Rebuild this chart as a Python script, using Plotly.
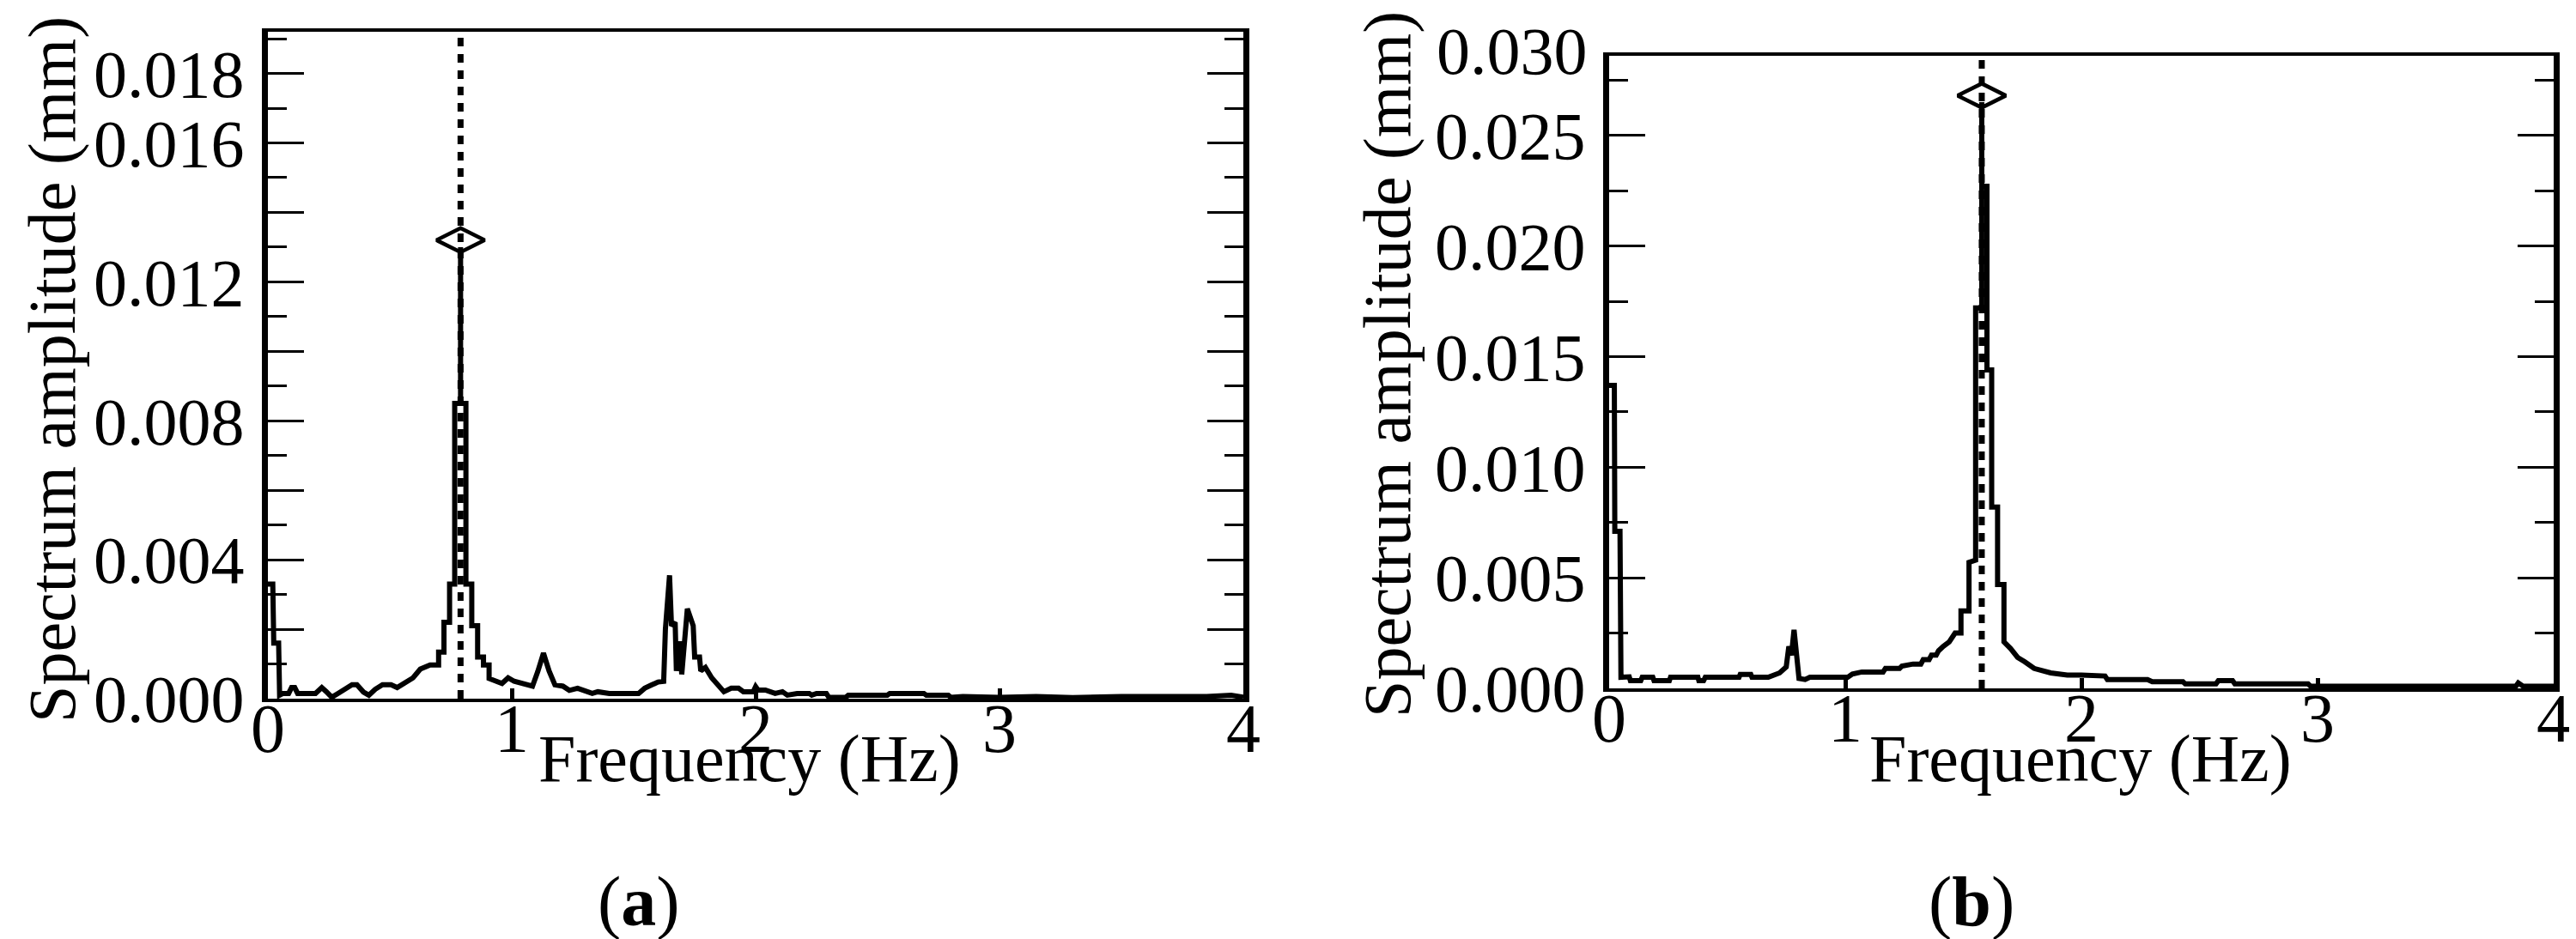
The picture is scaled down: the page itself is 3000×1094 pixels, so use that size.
import plotly.graph_objects as go

# ---------------- data: panel (a) ----------------
freq_a = [0.000, 0.020, 0.024, 0.044, 0.048, 0.062, 0.085, 0.097, 0.110, 0.122,
          0.195, 0.221, 0.240, 0.262, 0.290, 0.320, 0.345, 0.365, 0.392, 0.414,
          0.440, 0.470, 0.505, 0.530, 0.560, 0.595, 0.625, 0.665, 0.700, 0.700,
          0.722, 0.722, 0.745, 0.745, 0.766, 0.766, 0.790, 0.790, 0.790, 0.812,
          0.812, 0.836, 0.836, 0.860, 0.860, 0.884, 0.884, 0.907, 0.907, 0.960,
          0.985, 1.010, 1.060, 1.085, 1.107, 1.130, 1.153, 1.177, 1.210, 1.236,
          1.270, 1.330, 1.353, 1.400, 1.520, 1.545, 1.575, 1.600, 1.623, 1.630,
          1.647, 1.655, 1.670, 1.675, 1.690, 1.697, 1.720, 1.744, 1.750, 1.770,
          1.775, 1.794, 1.820, 1.843, 1.870, 1.900, 1.930, 1.950, 1.990, 2.000,
          2.010, 2.040, 2.080, 2.110, 2.130, 2.170, 2.220, 2.230, 2.250, 2.290,
          2.300, 2.370, 2.380, 2.540, 2.550, 2.690, 2.700, 2.790, 2.800, 2.850,
          3.000, 3.150, 3.300, 3.500, 3.700, 3.850, 3.950, 4.000]
amp_a = [0.00330, 0.00330, 0.00160, 0.00160, 0.00010, 0.00015, 0.00015, 0.00032, 0.00032, 0.00015,
         0.00015, 0.00032, 0.00020, 0.00004, 0.00016, 0.00028, 0.00040, 0.00040, 0.00019, 0.00010,
         0.00027, 0.00040, 0.00040, 0.00032, 0.00044, 0.00060, 0.00085, 0.00097, 0.00097, 0.00134,
         0.00134, 0.00220, 0.00220, 0.00330, 0.00330, 0.00850, 0.00850, 0.01300, 0.00850, 0.00850,
         0.00330, 0.00330, 0.00210, 0.00210, 0.00120, 0.00120, 0.00097, 0.00097, 0.00058, 0.00044,
         0.00060, 0.00050, 0.00040, 0.00036, 0.00079, 0.00131, 0.00080, 0.00040, 0.00036, 0.00024,
         0.00030, 0.00015, 0.00020, 0.00015, 0.00015, 0.00030, 0.00040, 0.00048, 0.00050, 0.00200,
         0.00355, 0.00210, 0.00220, 0.00080, 0.00165, 0.00070, 0.00259, 0.00210, 0.00120, 0.00120,
         0.00080, 0.00090, 0.00060, 0.00040, 0.00020, 0.00030, 0.00030, 0.00020, 0.00020, 0.00035,
         0.00025, 0.00025, 0.00015, 0.00020, 0.00010, 0.00015, 0.00015, 0.00010, 0.00015, 0.00015,
         0.00004, 0.00004, 0.00010, 0.00010, 0.00015, 0.00015, 0.00010, 0.00010, 0.00004, 0.00006,
         0.00004, 0.00006, 0.00003, 0.00006, 0.00004, 0.00006, 0.00010, 0.00004]
peak_freq_a = 0.79
peak_amp_a = 0.0132

# ---------------- data: panel (b) ----------------
freq_b = [0.000, 0.022, 0.024, 0.046, 0.050, 0.085, 0.090, 0.134, 0.140, 0.185,
          0.190, 0.255, 0.260, 0.376, 0.380, 0.400, 0.407, 0.550, 0.555, 0.600,
          0.605, 0.674, 0.722, 0.750, 0.761, 0.772, 0.783, 0.795, 0.804, 0.830,
          0.850, 1.010, 1.030, 1.070, 1.160, 1.170, 1.230, 1.240, 1.287, 1.320,
          1.330, 1.355, 1.365, 1.385, 1.395, 1.415, 1.440, 1.465, 1.490, 1.490,
          1.524, 1.524, 1.552, 1.552, 1.578, 1.578, 1.578, 1.600, 1.600, 1.620,
          1.620, 1.645, 1.645, 1.672, 1.672, 1.700, 1.730, 1.760, 1.800, 1.870,
          1.940, 2.000, 2.100, 2.110, 2.280, 2.300, 2.430, 2.440, 2.570, 2.580,
          2.640, 2.650, 2.960, 2.970, 3.300, 3.600, 3.840, 3.850, 3.870, 4.000]
amp_b = [0.01370, 0.01370, 0.00710, 0.00710, 0.00050, 0.00052, 0.00035, 0.00035, 0.00050, 0.00050,
         0.00035, 0.00035, 0.00050, 0.00050, 0.00035, 0.00035, 0.00050, 0.00050, 0.00063, 0.00063,
         0.00050, 0.00050, 0.00070, 0.00097, 0.00190, 0.00150, 0.00265, 0.00150, 0.00045, 0.00040,
         0.00050, 0.00050, 0.00065, 0.00074, 0.00074, 0.00090, 0.00090, 0.00101, 0.00110, 0.00110,
         0.00130, 0.00130, 0.00150, 0.00150, 0.00170, 0.00190, 0.00210, 0.00250, 0.00250, 0.00350,
         0.00350, 0.00570, 0.00580, 0.01720, 0.01720, 0.02650, 0.02270, 0.02270, 0.01440, 0.01440,
         0.00820, 0.00820, 0.00470, 0.00470, 0.00210, 0.00180, 0.00140, 0.00120, 0.00090, 0.00070,
         0.00060, 0.00060, 0.00056, 0.00040, 0.00040, 0.00030, 0.00030, 0.00020, 0.00020, 0.00035,
         0.00035, 0.00020, 0.00020, 0.00010, 0.00012, 0.00010, 0.00010, 0.00025, 0.00010, 0.00010]
peak_freq_b = 1.578
peak_amp_b = 0.0268

# ---------------- axis tick data ----------------
xtick_vals = [0, 1, 2, 3, 4]
xtick_text = ["0", "1", "2", "3", "4"]
ytick_vals_a = [0.000, 0.002, 0.004, 0.006, 0.008, 0.010, 0.012, 0.014, 0.016, 0.018]
ytick_text_a = ["0.000", "", "0.004", "", "0.008", "", "0.012", "", "0.016", "0.018"]
ytick_vals_b = [0.000, 0.005, 0.010, 0.015, 0.020, 0.025]
ytick_text_b = ["0.000", "0.005", "0.010", "0.015", "0.020", "0.025"]
top_label_b = "0.030"

W, H = 3000, 1094
FONT = "Liberation Serif"

fig = go.Figure()

line_style = dict(color="black", width=6)
fig.add_trace(go.Scatter(x=freq_a, y=amp_a, mode="lines", line=line_style,
                         xaxis="x", yaxis="y", showlegend=False))
fig.add_trace(go.Scatter(x=freq_b, y=amp_b, mode="lines", line=line_style,
                         xaxis="x2", yaxis="y2", showlegend=False))

# peak markers (open diamonds)
mk = dict(symbol="diamond-wide-open", size=40, color="black", line=dict(width=4.5, color="black"))
fig.add_trace(go.Scatter(x=[peak_freq_a], y=[peak_amp_a], mode="markers", marker=mk,
                         xaxis="x", yaxis="y", showlegend=False))
fig.add_trace(go.Scatter(x=[peak_freq_b], y=[peak_amp_b], mode="markers", marker=mk,
                         xaxis="x2", yaxis="y2", showlegend=False))

# dotted vertical lines at the peak frequencies
for xr, yr, pf in [("x", "y domain", peak_freq_a), ("x2", "y2 domain", peak_freq_b)]:
    fig.add_shape(type="line", xref=xr, yref=yr, x0=pf, x1=pf, y0=0, y1=1,
                  line=dict(color="black", width=7, dash="10px,9px"), layer="above")

def px2x(p):
    return p / W

def px2y(p):
    return 1 - p / H

common_x = dict(range=[0, 4], tickvals=xtick_vals, ticktext=xtick_text, ticks="inside",
                ticklen=12, tickwidth=5, tickcolor="black", showline=True, linewidth=4,
                linecolor="black", mirror=True, showgrid=False, zeroline=False,
                automargin=False,
                tickfont=dict(family=FONT, size=80, color="black"), ticklabelstandoff=-38)
common_y = dict(ticks="inside", ticklen=42, tickwidth=3, tickcolor="black", showline=True,
                linewidth=7, linecolor="black", mirror="allticks", showgrid=False,
                zeroline=False, automargin=False,
                tickfont=dict(family=FONT, size=78, color="black"),
                ticklabelstandoff=5)

fig.update_layout(
    template="none",
    width=W, height=H, margin=dict(l=0, r=0, t=0, b=0, autoexpand=False),
    paper_bgcolor="white", plot_bgcolor="white",
    font=dict(family=FONT, color="black"),
    xaxis=dict(domain=[px2x(304), px2x(1440)], anchor="y", **common_x),
    yaxis=dict(domain=[px2y(806), px2y(29)], anchor="x", range=[0, 0.0192],
               tickvals=ytick_vals_a, ticktext=ytick_text_a,
               minor=dict(ticks="inside", ticklen=22, tickwidth=3, tickcolor="black", dtick=0.001, tick0=0),
               **common_y),
    xaxis2=dict(domain=[px2x(1866), px2x(2966)], anchor="y2", **common_x),
    yaxis2=dict(domain=[px2y(794), px2y(57)], anchor="x2", range=[0, 0.0286],
                tickvals=ytick_vals_b, ticktext=ytick_text_b,
                minor=dict(ticks="inside", ticklen=22, tickwidth=3, tickcolor="black", dtick=0.0025, tick0=0),
                **common_y),
)

ann_font = dict(family=FONT, size=78, color="black")
annotations = [
    dict(text="Spectrum amplitude (mm)", x=px2x(52), y=px2y(423), textangle=-90),
    dict(text="Spectrum amplitude (mm)", x=px2x(1607), y=px2y(416), textangle=-90),
    dict(text="Frequency (Hz)", x=px2x(865), y=px2y(875)),
    dict(text="Frequency (Hz)", x=px2x(2415), y=px2y(875)),
    dict(text="(<b>a</b>)", x=px2x(736), y=px2y(1042), font=dict(family=FONT, size=82, color="black")),
    dict(text="(<b>b</b>)", x=px2x(2288), y=px2y(1042), font=dict(family=FONT, size=82, color="black")),
    dict(text=top_label_b, x=px2x(1843), y=px2y(52), xanchor="right",
         font=dict(family=FONT, size=78, color="black")),
]
for a in annotations:
    a.setdefault("xanchor", "center")
    a.setdefault("yanchor", "middle")
    a.setdefault("font", ann_font)
    fig.add_annotation(xref="paper", yref="paper", showarrow=False, **a)

fig.write_html("out.html")
